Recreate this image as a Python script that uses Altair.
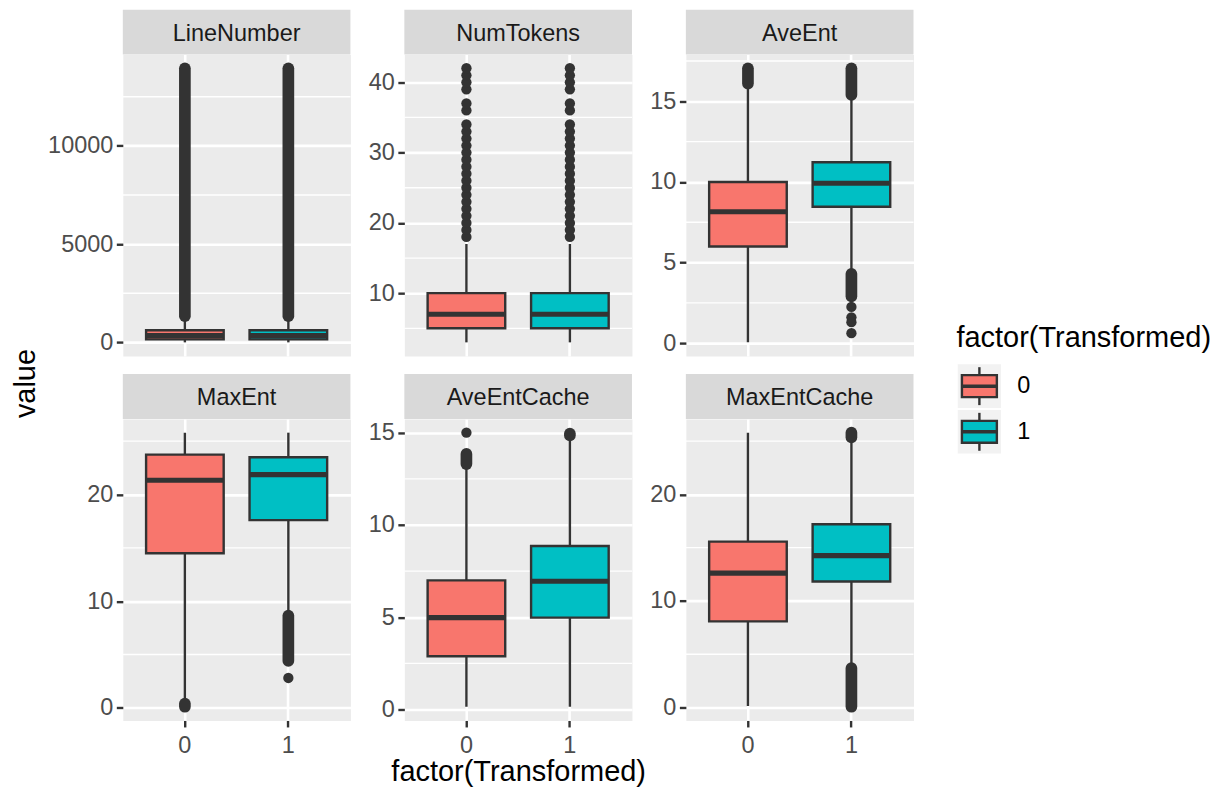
import altair as alt
import pandas as pd

# ---------------- data ----------------
variables = ["LineNumber", "NumTokens", "AveEnt", "MaxEnt", "AveEntCache", "MaxEntCache"]
groups = ["0", "1"]
group_colors = ["#F8766D", "#00BFC4"]

# boxplot statistics, one entry per (variable, group)
box_variable = ["LineNumber", "LineNumber", "NumTokens", "NumTokens", "AveEnt", "AveEnt",
                "MaxEnt", "MaxEnt", "AveEntCache", "AveEntCache", "MaxEntCache", "MaxEntCache"]
box_group = ["0", "1", "0", "1", "0", "1", "0", "1", "0", "1", "0", "1"]
whisker_low = [0, 0, 3, 3, 0.05, 4.35, 0.75, 8.85, 0.15, 0.15, 0.15, 3.85]
q1 = [150, 150, 5, 5, 6.0, 8.46, 14.49, 17.6, 2.89, 4.98, 8.09, 11.83]
median = [340, 340, 7, 7, 8.15, 9.92, 21.34, 21.87, 4.98, 6.95, 12.62, 14.26]
q3 = [620, 620, 10, 10, 10.0, 11.22, 23.74, 23.5, 7.0, 8.86, 15.57, 17.2]
whisker_high = [1300, 1300, 17, 17, 15.95, 15.3, 25.8, 25.8, 13.1, 14.58, 25.8, 25.2]

# individual outlier points
numtokens_outliers = [18, 19, 20, 21, 22, 23, 24, 25, 26, 27, 28, 29, 30, 31, 32, 33, 34,
                      36, 37, 39, 40, 41, 42]
point_variable = (["NumTokens"] * len(numtokens_outliers) * 2
                  + ["AveEnt"] * 4 + ["MaxEnt"] + ["AveEntCache"])
point_group = (["0"] * len(numtokens_outliers) + ["1"] * len(numtokens_outliers)
               + ["1"] * 4 + ["1"] + ["0"])
point_value = numtokens_outliers + numtokens_outliers + [2.25, 1.6, 1.3, 0.62] + [2.8] + [15.0]

# stretches of outliers so dense that the points merge into a solid column
run_variable = ["LineNumber", "LineNumber", "AveEnt", "AveEnt", "AveEnt", "MaxEnt", "MaxEnt",
                "AveEntCache", "AveEntCache", "MaxEntCache", "MaxEntCache"]
run_group = ["0", "1", "0", "1", "1", "0", "1", "0", "1", "1", "1"]
run_low = [1330, 1330, 16.1, 15.4, 2.9, 0.1, 4.4, 13.3, 14.85, 25.35, 0.07]
run_high = [13950, 13950, 17.05, 17.05, 4.3, 0.4, 8.65, 13.85, 14.95, 25.8, 3.7]

major_breaks = {
    "LineNumber": [0, 5000, 10000],
    "NumTokens": [10, 20, 30, 40],
    "AveEnt": [0, 5, 10, 15],
    "MaxEnt": [0, 10, 20],
    "AveEntCache": [0, 5, 10, 15],
    "MaxEntCache": [0, 10, 20],
}
minor_breaks = {
    "LineNumber": [2500, 7500, 12500],
    "NumTokens": [5, 15, 25, 35],
    "AveEnt": [2.5, 7.5, 12.5, 17.5],
    "MaxEnt": [5, 15, 25],
    "AveEntCache": [2.5, 7.5, 12.5],
    "MaxEntCache": [5, 15, 25],
}

# ---------------- tables ----------------
box_df = pd.DataFrame({"var": box_variable, "g": box_group, "lo": whisker_low, "q1": q1,
                       "med": median, "q3": q3, "hi": whisker_high})
pt_df = pd.DataFrame({"var": point_variable, "g": point_group, "v": point_value})
run_df = pd.DataFrame({"var": run_variable, "g": run_group, "a": run_low, "b": run_high})


def domain_for(var):
    vals = list(box_df.loc[box_df["var"] == var, ["lo", "hi"]].values.ravel())
    vals += list(pt_df.loc[pt_df["var"] == var, "v"])
    vals += list(run_df.loc[run_df["var"] == var, ["a", "b"]].values.ravel())
    lo, hi = min(vals), max(vals)
    pad = 0.05 * (hi - lo)
    return [lo - pad, hi + pad]


W, H = 228, 302
STRIP = 45
DARK = "#333333"
FONT = "Liberation Sans"
TICK_FS = 23.5
TITLE_FS = 29

color_enc = alt.Color("g:N", scale=alt.Scale(domain=groups, range=group_colors), legend=None)


def make_panel(i, var):
    bottom = i >= 3
    dom = domain_for(var)
    yaxis = alt.Axis(values=major_breaks[var], format="d", domain=False, grid=True,
                     gridColor="white", gridWidth=2.6, tickColor=DARK, tickWidth=2.4,
                     tickSize=6.5, labelFontSize=TICK_FS, labelColor="#4D4D4D",
                     labelPadding=3.5, title=None)
    if bottom:
        xaxis = alt.Axis(domain=False, grid=True, gridColor="white", gridWidth=2.6,
                         bandPosition=0.5, labelAngle=0, labelFontSize=TICK_FS,
                         labelColor="#4D4D4D", labelPadding=6.5, tickSize=6.5, tickWidth=2.4,
                         tickColor=DARK,
                         title=("factor(Transformed)" if i == 4 else None),
                         titleFontSize=TITLE_FS, titleColor="black",
                         titleFontWeight="normal", titlePadding=1)
    else:
        xaxis = alt.Axis(domain=False, grid=True, gridColor="white", gridWidth=2.6,
                         bandPosition=0.5, labels=False, ticks=False, title=None)

    xs = alt.Scale(domain=groups, paddingInner=0.25, paddingOuter=0.225)
    ys = alt.Scale(domain=dom, nice=False, zero=False)

    def X():
        return alt.X("g:N", scale=xs, axis=xaxis)

    def Y(field):
        return alt.Y(field, type="quantitative", scale=ys, axis=yaxis)

    bdf = box_df[box_df["var"] == var]
    pdf = pt_df[pt_df["var"] == var]
    rdf = run_df[run_df["var"] == var]
    mdf = pd.DataFrame({"m": minor_breaks[var]})

    layers = [
        alt.Chart(mdf).mark_rule(color="white", strokeWidth=1.3).encode(y=Y("m")),
        alt.Chart(bdf).mark_rule(color=DARK, strokeWidth=2.4).encode(
            x=X(), y=Y("lo"), y2=alt.Y2("hi")),
    ]
    if len(rdf):
        layers.append(alt.Chart(rdf).mark_rule(color=DARK, strokeWidth=11.7,
                                               strokeCap="round").encode(
            x=X(), y=Y("a"), y2=alt.Y2("b")))
    if len(pdf):
        layers.append(alt.Chart(pdf).mark_circle(color=DARK, size=107, opacity=1).encode(
            x=X(), y=Y("v")))
    layers += [
        alt.Chart(bdf).mark_bar(stroke=DARK, strokeWidth=2.4).encode(
            x=X(), y=Y("q1"), y2=alt.Y2("q3"), color=color_enc),
        alt.Chart(bdf).mark_tick(color=DARK, size=78, thickness=5.2, opacity=1).encode(
            x=X(), y=Y("med")),
    ]
    data_layer = alt.layer(*layers)

    sdf = pd.DataFrame({"label": [var]})
    strip_rect = alt.Chart(sdf).mark_rect(color="#D9D9D9").encode(
        x=alt.value(0), x2=alt.value(W), y=alt.value(-STRIP), y2=alt.value(0))
    strip_text = alt.Chart(sdf).mark_text(fontSize=TICK_FS, color="#1A1A1A",
                                          align="center", baseline="alphabetic").encode(
        x=alt.value(W / 2), y=alt.value(-14), text="label:N")

    parts = [data_layer, strip_rect, strip_text]

    if i == 0:
        ylab = alt.Chart(pd.DataFrame({"t": ["value"]})).mark_text(
            fontSize=TITLE_FS, color="black", angle=270, align="center",
            baseline="middle").encode(x=alt.value(-96.7), y=alt.value(329.5), text="t:N")
        parts.append(ylab)

    resolve_independent = False
    if i == 2:
        ldf = pd.DataFrame({"g": groups})
        ls = alt.Scale(domain=groups, range=[310.3, 399.7], paddingInner=0.045,
                       paddingOuter=0)
        LY = alt.Y("g:N", scale=ls, axis=None)
        kx0, kx1 = 272.3, 315.7
        kc = (kx0 + kx1) / 2
        legend_layer = alt.layer(
            alt.Chart(ldf).mark_rect(color="#F2F2F2").encode(
                x=alt.value(kx0), x2=alt.value(kx1), y=LY),
            alt.Chart(ldf).mark_tick(orient="vertical", size=38, thickness=2.4,
                                     color=DARK, opacity=1).encode(x=alt.value(kc), y=LY),
            alt.Chart(ldf).mark_tick(orient="horizontal", size=35, thickness=22,
                                     stroke=DARK, strokeWidth=2.4, opacity=1).encode(
                x=alt.value(kc), y=LY, color=color_enc),
            alt.Chart(ldf).mark_tick(orient="horizontal", size=35, thickness=3.5,
                                     color=DARK, opacity=1).encode(x=alt.value(kc), y=LY),
            alt.Chart(ldf).mark_text(fontSize=TICK_FS, color="black", align="left",
                                     baseline="middle").encode(
                x=alt.value(332), y=LY, text="g:N"),
        )
        ltitle = alt.Chart(pd.DataFrame({"t": ["factor(Transformed)"]})).mark_text(
            fontSize=TITLE_FS, color="black", align="left", baseline="alphabetic").encode(
            x=alt.value(271), y=alt.value(292.9), text="t:N")
        parts += [legend_layer, ltitle]
        resolve_independent = True

    panel = alt.layer(*parts).properties(width=W, height=H)
    if resolve_independent:
        panel = panel.resolve_scale(y="independent")
    return panel


panels = [make_panel(i, v) for i, v in enumerate(variables)]

chart = alt.concat(*panels, columns=3, spacing={"row": 63, "column": 54},
                   bounds="flush").properties(
    padding={"left": 3, "top": 0, "right": 0, "bottom": 0},
    background="white",
).configure(font=FONT).configure_view(fill="#EBEBEB", stroke="transparent")

chart.save("out.html", embed_options={"renderer": "svg", "actions": False})
